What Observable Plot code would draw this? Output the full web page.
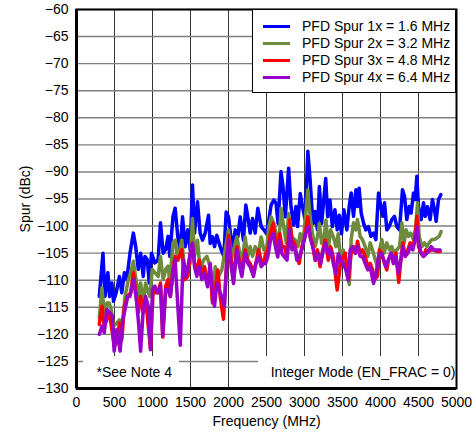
<!DOCTYPE html>
<html><head><meta charset="utf-8">
<script src="https://cdn.jsdelivr.net/npm/d3@7"></script>
<script src="https://cdn.jsdelivr.net/npm/@observablehq/plot@0.6"></script>
<style>
html,body{margin:0;padding:0;background:#fff;}
#wrap{position:relative;width:476px;height:432px;font-family:Arial,"Liberation Sans",sans-serif;}
#legend{position:absolute;left:252px;top:9px;width:204px;height:84px;box-sizing:border-box;border:1.5px solid #000;background:#fff;font-size:14px;color:#000;}
#legend .row{position:absolute;left:0;height:17px;line-height:17px;white-space:nowrap;}
#legend .sw{position:absolute;left:10px;top:7px;width:27px;height:3px;}
#legend .lb{position:absolute;left:49px;top:0;}
</style>
</head><body>
<div id="wrap"></div>
<script>
const seriesNames = ["PFD Spur 1x = 1.6 MHz","PFD Spur 2x = 3.2 MHz","PFD Spur 3x = 4.8 MHz","PFD Spur 4x = 6.4 MHz"];
const seriesColors = ["#0000ff","#6e8b3d","#ff0000","#9900cc"];
const xTicks = [0,500,1000,1500,2000,2500,3000,3500,4000,4500,5000];
const yTicks = [-130,-125,-120,-115,-110,-105,-100,-95,-90,-85,-80,-75,-70,-65,-60];

const freq1 = [300,348,374,413,435,465,487,522,565,596,630,661,704,748,778,813,844,878,900,931,957,987,1030,1074,1105,1140,1174,1205,1227,1270,1298,1333,1364,1395,1430,1465,1496,1526,1553,1592,1627,1658,1693,1737,1759,1790,1816,1846,1877,1904,1939,1969,2000,2031,2053,2088,2123,2154,2197,2228,2254,2285,2316,2351,2386,2430,2465,2500,2530,2561,2596,2626,2652,2691,2717,2748,2791,2822,2857,2887,2909,2944,2974,3009,3044,3074,3096,3118,3139,3170,3196,3226,3279,3305,3335,3366,3400,3431,3457,3487,3518,3557,3588,3614,3645,3676,3697,3719,3746,3776,3807,3842,3873,3908,3939,3974,4004,4031,4053,4083,4114,4149,4184,4215,4250,4289,4316,4346,4377,4403,4434,4456,4478,4500,4535,4566,4588,4618,4653,4684,4710,4732,4763,4794];
const spur1 = [-113.0,-105.0,-113.0,-108.6,-113.0,-110.5,-113.9,-112.3,-109.3,-112.3,-108.6,-109.9,-105.0,-101.3,-103.7,-108.0,-105.0,-109.3,-105.6,-106.2,-110.5,-105.0,-106.8,-106.2,-99.4,-105.0,-104.3,-101.9,-105.6,-98.2,-96.7,-102.0,-104.4,-98.3,-103.8,-100.7,-104.4,-92.4,-101.3,-95.5,-101.3,-102.6,-101.3,-98.0,-103.2,-102.0,-103.8,-101.7,-103.2,-104.4,-105.6,-97.4,-98.3,-102.0,-104.4,-100.7,-102.0,-98.3,-102.6,-96.1,-98.3,-101.3,-98.6,-101.3,-96.7,-100.1,-100.7,-101.4,-98.9,-96.1,-95.2,-95.8,-99.5,-89.9,-92.7,-98.3,-89.3,-96.4,-99.8,-96.4,-100.1,-94.0,-96.4,-98.9,-86.2,-91.5,-96.4,-99.5,-97.3,-100.7,-92.7,-99.5,-91.2,-98.3,-95.2,-100.1,-97.0,-100.7,-98.0,-101.4,-97.0,-100.7,-96.4,-93.9,-98.2,-93.3,-96.4,-93.0,-97.6,-99.4,-100.7,-100.1,-101.9,-101.3,-102.5,-93.9,-96.4,-98.2,-95.7,-100.7,-100.1,-98.8,-98.2,-100.1,-100.7,-93.3,-94.5,-98.8,-96.4,-97.6,-93.9,-95.1,-90.8,-96.4,-98.8,-95.7,-98.2,-96.4,-98.8,-95.1,-97.0,-99.1,-95.1,-94.2];

const freq2 = [300,335,365,400,430,457,487,530,565,596,639,683,726,748,783,813,844,878,909,944,966,996,1030,1074,1105,1140,1174,1205,1227,1270,1298,1333,1386,1430,1465,1496,1526,1553,1592,1627,1671,1715,1759,1790,1825,1868,1912,1956,2000,2035,2066,2110,2140,2175,2219,2254,2285,2316,2351,2395,2430,2465,2500,2530,2561,2596,2626,2661,2691,2726,2761,2791,2835,2878,2913,2944,2978,3009,3044,3074,3105,3139,3170,3196,3226,3257,3283,3313,3344,3379,3413,3444,3474,3509,3544,3590,3614,3645,3676,3697,3732,3763,3798,3833,3864,3895,3930,3961,3987,4018,4048,4083,4118,4149,4180,4215,4250,4281,4311,4338,4368,4399,4434,4465,4487,4509,4544,4579,4609,4640,4675,4710,4741,4772,4798];
const spur2 = [-117.0,-111.4,-116.0,-114.2,-114.2,-115.4,-118.5,-117.9,-117.3,-119.0,-113.0,-109.9,-108.0,-106.5,-109.9,-113.0,-110.5,-114.2,-110.5,-112.3,-113.0,-108.0,-108.6,-109.3,-105.6,-109.9,-108.0,-107.4,-110.5,-103.1,-102.6,-106.3,-102.6,-109.3,-107.5,-106.9,-98.6,-105.6,-102.6,-108.1,-106.3,-105.6,-107.5,-114.2,-107.5,-109.3,-108.1,-104.4,-100.7,-106.3,-104.4,-102.0,-104.4,-106.9,-102.0,-105.6,-103.8,-105.6,-103.8,-105.0,-102.0,-104.4,-104.4,-100.1,-98.3,-99.5,-101.4,-103.8,-96.7,-100.1,-103.2,-97.7,-102.0,-102.6,-103.8,-101.4,-103.2,-98.9,-93.3,-98.3,-101.4,-103.8,-102.0,-99.5,-103.2,-102.0,-98.9,-104.4,-100.7,-102.0,-103.8,-101.4,-106.3,-104.4,-107.5,-110.8,-102.5,-99.4,-100.7,-98.8,-101.9,-102.5,-103.8,-105.6,-103.1,-104.4,-106.2,-107.5,-104.4,-102.5,-105.0,-103.1,-104.4,-103.8,-105.0,-104.4,-103.8,-99.4,-103.1,-100.7,-101.9,-101.3,-102.5,-100.1,-95.7,-101.9,-103.8,-103.1,-103.8,-103.1,-102.5,-102.5,-102.2,-101.9,-101.0];

const freq3 = [300,335,365,400,435,465,496,530,565,596,630,670,713,748,783,813,844,878,913,944,974,1009,1044,1074,1105,1135,1174,1205,1235,1270,1298,1333,1386,1421,1465,1496,1526,1553,1583,1614,1649,1684,1724,1759,1790,1825,1860,1890,1934,1965,2000,2035,2066,2110,2140,2175,2219,2254,2285,2329,2360,2395,2430,2465,2487,2517,2552,2587,2617,2648,2674,2704,2735,2770,2805,2835,2870,2900,2930,2965,2996,3044,3074,3105,3139,3170,3205,3240,3274,3313,3344,3379,3430,3474,3509,3535,3579,3614,3645,3676,3697,3732,3763,3798,3833,3864,3895,3921,3961,3987,4018,4053,4083,4105,4140,4171,4202,4240,4268,4294,4325,4360,4390,4425,4456,4478,4500,4535,4566,4596,4631,4667,4702,4741,4785];
const spur3 = [-118.2,-114.8,-118.5,-117.3,-116.0,-119.1,-122.2,-121.6,-117.9,-121.0,-114.8,-113.0,-112.3,-108.6,-112.3,-116.0,-113.0,-116.0,-113.6,-118.5,-122.8,-111.7,-112.3,-112.3,-110.5,-120.5,-111.1,-109.9,-113.0,-108.0,-105.6,-106.3,-104.4,-109.9,-109.3,-105.0,-103.2,-106.9,-108.1,-106.3,-109.3,-107.5,-110.6,-108.1,-114.2,-111.8,-108.1,-113.0,-117.2,-109.3,-101.7,-106.3,-109.3,-103.8,-106.3,-108.7,-104.4,-106.3,-106.9,-108.7,-106.9,-104.4,-106.3,-106.9,-105.1,-104.4,-101.4,-99.5,-102.6,-104.4,-101.4,-103.8,-103.8,-105.7,-98.9,-102.6,-103.2,-105.7,-106.9,-103.8,-102.6,-98.3,-102.0,-103.2,-106.3,-104.4,-107.5,-104.4,-102.6,-106.3,-103.8,-105.7,-111.8,-106.9,-105.7,-105.0,-109.9,-105.0,-103.8,-105.0,-102.8,-105.0,-104.4,-105.6,-107.5,-106.9,-108.1,-109.9,-109.3,-104.4,-105.0,-106.9,-108.1,-106.2,-105.0,-106.9,-105.0,-110.4,-106.2,-103.1,-105.6,-104.4,-103.1,-103.8,-101.9,-98.2,-103.8,-105.0,-105.6,-104.4,-104.7,-104.4,-104.4,-104.7,-104.7];

const freq4 = [300,335,365,400,435,470,496,530,574,609,639,674,704,748,783,813,844,878,909,944,974,1000,1030,1074,1105,1135,1174,1205,1235,1270,1298,1320,1365,1395,1408,1439,1474,1504,1526,1553,1583,1614,1649,1684,1724,1759,1790,1816,1846,1877,1912,1947,1978,2000,2035,2066,2110,2140,2175,2219,2254,2285,2329,2360,2395,2430,2465,2487,2517,2552,2587,2617,2648,2674,2704,2735,2770,2805,2835,2870,2900,2930,2965,2996,3031,3053,3083,3118,3148,3183,3213,3248,3279,3313,3344,3379,3413,3444,3474,3509,3544,3574,3601,3632,3667,3697,3732,3763,3798,3833,3864,3908,3943,3974,4009,4040,4070,4105,4140,4171,4202,4237,4268,4294,4325,4360,4390,4425,4456,4478,4500,4535,4566,4609,4640,4667,4702,4741,4785];
const spur4 = [-120.0,-118.5,-119.7,-115.4,-116.0,-116.6,-123.1,-119.1,-123.1,-117.3,-115.4,-113.0,-113.0,-109.9,-113.0,-117.3,-123.1,-115.4,-113.0,-114.8,-122.8,-111.7,-111.1,-112.3,-111.1,-120.3,-111.7,-111.7,-113.0,-108.6,-106.3,-111.8,-122.0,-109.3,-106.3,-109.3,-106.9,-104.4,-103.2,-107.5,-109.3,-107.5,-109.9,-108.7,-111.2,-106.9,-112.4,-114.8,-110.6,-111.8,-113.0,-114.8,-106.3,-102.6,-107.5,-110.6,-104.4,-106.9,-109.3,-105.0,-106.9,-107.5,-109.3,-106.9,-105.6,-107.5,-106.9,-106.9,-105.7,-102.6,-101.4,-103.8,-105.7,-102.6,-105.1,-105.7,-106.3,-100.7,-104.4,-103.8,-106.3,-105.7,-104.4,-102.6,-100.7,-100.1,-102.6,-104.4,-106.3,-105.1,-106.9,-104.4,-103.2,-105.1,-104.4,-106.9,-108.8,-105.1,-106.3,-106.9,-108.1,-110.0,-104.4,-103.8,-105.0,-103.8,-105.6,-105.6,-106.9,-108.1,-107.5,-110.6,-108.7,-105.6,-105.0,-106.2,-107.5,-106.2,-105.0,-106.9,-105.6,-108.7,-106.2,-103.8,-105.6,-105.0,-103.8,-104.4,-102.5,-100.1,-103.1,-105.0,-105.6,-105.0,-104.4,-103.8,-104.4,-104.4,-104.4];

const noteTexts = ["*See Note 4", "Integer Mode (EN_FRAC = 0)"];
const noteX1 = [92, 2395];
const noteX2 = [1355, 5000];
const noteY1 = [-130, -130];
const noteY2 = [-124.1, -124.1];

const freqs = [freq1, freq2, freq3, freq4];
const spurs = [spur1, spur2, spur3, spur4];
const rows = [];
seriesNames.forEach((name, i) => {
  const n = Math.min(freqs[i].length, spurs[i].length);
  for (let j = 0; j < n; j++) rows.push({series: name, f: freqs[i][j], v: spurs[i][j]});
});
const notes = noteTexts.map((t, i) => ({text: t, x1: noteX1[i], x2: noteX2[i], y1: noteY1[i], y2: noteY2[i], ym: (noteY1[i] + noteY2[i]) / 2, anchor: i === 0 ? "start" : "end"}));

const fmtY = d => d < 0 ? "\u2212" + Math.abs(d) : String(d);

const chart = Plot.plot({
  width: 476, height: 432,
  marginLeft: 76, marginRight: 20, marginTop: 9, marginBottom: 44,
  style: {fontFamily: "Arial, 'Liberation Sans', sans-serif", fontSize: "14px", background: "white", color: "black"},
  x: {domain: [0, 5000]},
  y: {domain: [-130, -60]},
  color: {domain: seriesNames, range: seriesColors},
  marks: [
    Plot.gridX(xTicks, {stroke: "#333333", strokeOpacity: 1, strokeWidth: 1}),
    Plot.gridY(yTicks, {stroke: "#808080", strokeOpacity: 1, strokeWidth: 1.4}),
    Plot.rect(notes, {x1: "x1", x2: "x2", y1: "y1", y2: "y2", fill: "white"}),
    Plot.line(rows, {x: "f", y: "v", z: "series", stroke: "series", strokeWidth: 3.5, strokeLinejoin: "round", strokeLinecap: "round"}),
    Plot.text(notes.filter(d => d.anchor === "start"), {x: "x1", y: "ym", text: "text", textAnchor: "start", dx: 13, fontSize: 14, fill: "black"}),
    Plot.text(notes.filter(d => d.anchor === "end"), {x: "x2", y: "ym", text: "text", textAnchor: "end", dx: -1, fontSize: 14, fill: "black"}),
    Plot.frame({stroke: "black", strokeWidth: 2}),
    Plot.ruleX([xTicks[0]], {stroke: "black", strokeWidth: 3}),
    Plot.ruleY([yTicks[0]], {stroke: "black", strokeWidth: 3}),
    Plot.axisX(xTicks, {tickSize: 0, tickPadding: 9, tickFormat: d => String(d), fontSize: 14, label: "Frequency (MHz)", labelAnchor: "center", labelOffset: 37, labelArrow: false}),
    Plot.axisY(yTicks, {tickSize: 0, tickPadding: 8, tickFormat: fmtY, fontSize: 14, label: "Spur (dBc)", labelAnchor: "center", labelOffset: 56, labelArrow: false})
  ]
});
const wrap = document.getElementById("wrap");
wrap.appendChild(chart);

const legend = document.createElement("div");
legend.id = "legend";
seriesNames.forEach((name, i) => {
  const row = document.createElement("div");
  row.className = "row";
  row.style.top = (8 + i * 17) + "px";
  const sw = document.createElement("span");
  sw.className = "sw";
  sw.style.background = seriesColors[i];
  const lb = document.createElement("span");
  lb.className = "lb";
  lb.textContent = name;
  row.appendChild(sw); row.appendChild(lb);
  legend.appendChild(row);
});
wrap.appendChild(legend);
</script>
</body></html>
